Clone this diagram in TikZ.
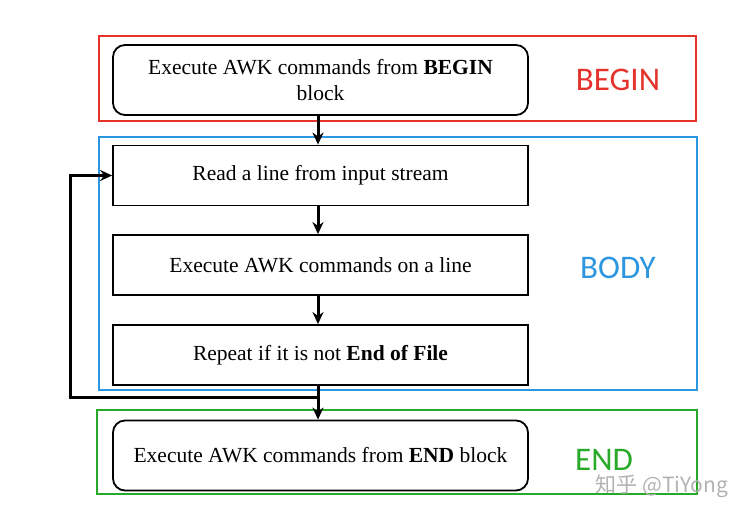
\documentclass[tikz,border=0pt]{standalone}
\usepackage{fontspec}
\setmainfont{Liberation Serif}
\newfontfamily\labelfont{Carlito}
\newfontfamily\cjkfont{Noto Sans CJK SC}
\usetikzlibrary{positioning,arrows.meta}
\definecolor{stagered}{RGB}{228,50,45}
\definecolor{stageblue}{RGB}{45,150,225}
\definecolor{stagegreen}{RGB}{40,170,40}
\tikzset{
  stage/.style={draw,line width=1.8pt},
  cmdbox/.style={draw=black,line width=1.8pt,minimum width=415pt,minimum height=60pt,align=center,font=\fontsize{21.5}{26}\selectfont},
  rcmdbox/.style={cmdbox,rounded corners=12pt,minimum height=70pt},
  tag/.style={font=\labelfont\fontsize{33}{33}\selectfont},
  flow/.style={-{Stealth[length=12pt,width=11pt]},line width=3pt}
}
\begin{document}
\begin{tikzpicture}[x=1pt,y=-1pt]
\useasboundingbox (0,0) rectangle (753,518);
\draw[stage,stagered] (99,36) rectangle (696,121);
\draw[stage,stageblue] (99,137) rectangle (697,390);
\draw[stage,stagegreen] (97,410) rectangle (697,494);
\node[rcmdbox] (begin) at (320.5,80) {Execute AWK commands from \textbf{BEGIN}\\block};
\node[cmdbox] (read) at (320.5,175.5) {Read a line from input stream};
\node[cmdbox] (exec) at (320.5,265) {Execute AWK commands on a line};
\node[cmdbox] (repeat) at (320.5,355) {Repeat if it is not \textbf{End of File}};
\node[rcmdbox] (end) at (320.5,455.5) {Execute AWK commands from \textbf{END} block};
\node[tag,text=stagered] (lbegin) at (618,80) {BEGIN};
\node[tag,text=stageblue] (lbody) at (618,268) {BODY};
\node[tag,text=stagegreen] (lend) at (604,460) {END};
\node[font=\cjkfont\fontsize{21}{21}\selectfont,text=black!30] (mark) at (662,486) {知乎 @TiYong};
\coordinate (split) at (318,398);
\draw[flow] (begin.south -| split) -- (read.north -| split);
\draw[flow] (read.south -| split) -- (exec.north -| split);
\draw[flow] (exec.south -| split) -- (repeat.north -| split);
\draw[flow] (repeat.south -| split) -- (end.north -| split);
\draw[flow] (split) -- (70,398) |- (read.west);
\end{tikzpicture}
\end{document}
